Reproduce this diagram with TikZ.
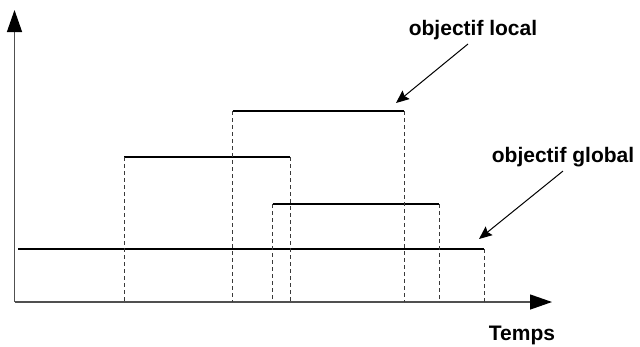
\documentclass[tikz,border=0pt]{standalone}
\usepackage{fontspec}
\setmainfont{Liberation Sans}
\usepackage{xcolor}
\usepackage{tikz}
\usetikzlibrary{positioning,arrows.meta}
\definecolor{axisgray}{HTML}{505050}
\definecolor{dashgray}{HTML}{3A3A3A}
\tikzset{
    axis/.style={line width=1.3pt, color=axisgray, -{Triangle[length=22pt, width=15pt, color=black]}},
    bar/.style={line width=2.6pt, color=black},
    guide/.style={line width=1pt, color=dashgray, dash pattern=on 4pt off 3pt},
    label/.style={font=\bfseries\fontsize{21}{25}\selectfont, inner sep=2pt},
    pointer/.style={line width=1pt, -{Stealth[length=13pt, width=11pt, inset=2pt]}}
}

\begin{document}
\begin{tikzpicture}[x=1pt, y=-1pt]
    \useasboundingbox (0,0) rectangle (640,346);
    % axes
    \coordinate (origin) at (14.5,302);
    \coordinate (ytop) at (14.5,10);
    \coordinate (xend) at (552,302);
    \draw[axis] (origin) -- (ytop);
    \draw[axis] (origin) -- (xend);
    % bars
    \coordinate (g1) at (18,249);   \coordinate (g2) at (484,249);
    \coordinate (a1) at (124,157);  \coordinate (a2) at (290,157);
    \coordinate (b1) at (232.5,111);  \coordinate (b2) at (404,111);
    \coordinate (c1) at (272.5,204);  \coordinate (c2) at (439,204);
    \draw[bar] (g1) -- (g2);
    \draw[bar] (a1) -- (a2);
    \draw[bar] (b1) -- (b2);
    \draw[bar] (c1) -- (c2);
    % guides down to the time axis
    \foreach \p in {g2,a1,a2,b1,b2,c1,c2}
        \draw[guide] (\p) -- (\p |- origin);
    % labels
    \node[label] (loclbl) at (473,30) {objectif local};
    \node[label] (globlbl) at (563,157) {objectif global};
    \node[label] (timelbl) at (522,335) {Temps};
    \coordinate (loctip) at (396,103);
    \coordinate (globtip) at (479,239);
    \draw[pointer] ([xshift=-5pt, yshift=-2pt]loclbl.south) -- (loctip);
    \draw[pointer] ([yshift=-2pt]globlbl.south) -- (globtip);
\end{tikzpicture}
\end{document}
